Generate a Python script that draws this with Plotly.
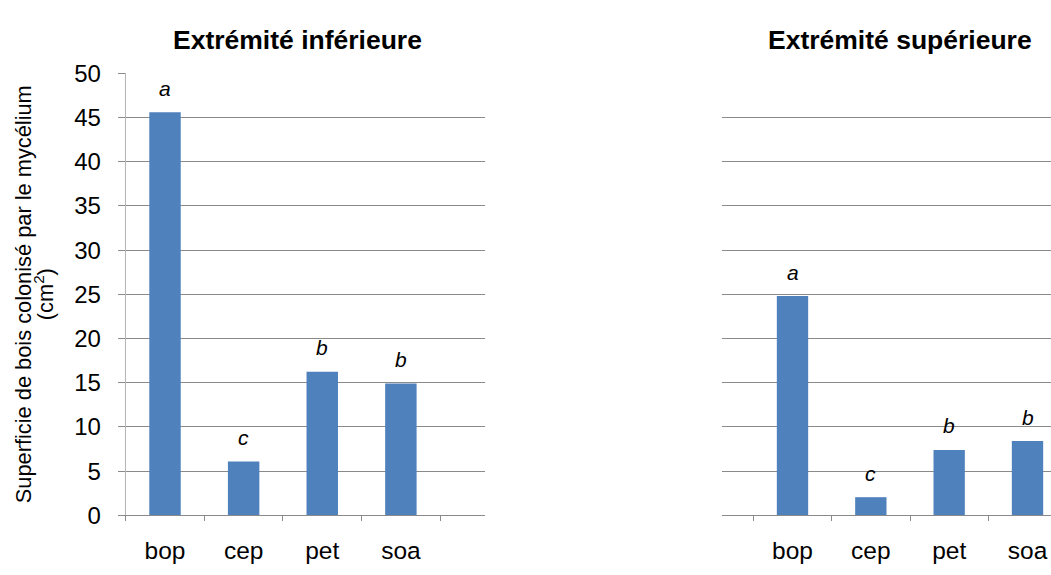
import plotly.graph_objects as go

categories = ["bop", "cep", "pet", "soa"]
inf_values = [45.6, 6.1, 16.25, 14.9]
sup_values = [24.8, 2.05, 7.4, 8.4]
inf_letters = ["a", "c", "b", "b"]
sup_letters = ["a", "c", "b", "b"]
titles = ["Extrémité inférieure", "Extrémité supérieure"]
y_title_lines = ["Superficie de bois colonisé par le mycélium", "(cm<sup>2</sup>)"]
y_ticks = [0, 5, 10, 15, 20, 25, 30, 35, 40, 45, 50]

FONT = "Arial, 'Liberation Sans', sans-serif"
BAR = "#4F81BD"
GRID = "#8a8a8a"
AXIS = "#b5b5b5"

W, H = 1051, 575

fig = go.Figure()
fig.add_trace(go.Bar(x=categories, y=inf_values, width=0.4, marker_color=BAR,
                     marker_line_width=0, xaxis="x", yaxis="y", showlegend=False))
fig.add_trace(go.Bar(x=categories, y=sup_values, width=0.4, marker_color=BAR,
                     marker_line_width=0, xaxis="x2", yaxis="y2", showlegend=False))

ydom = [(575 - 526) / H, (575 - 62.3) / H]

common_x = dict(type="category", tickson="boundaries", ticks="outside", ticklen=5,
                tickcolor=GRID, showline=True, linecolor=GRID, linewidth=1,
                showgrid=False, tickfont=dict(family=FONT, size=24.5, color="#000"),
                ticklabelstandoff=13, fixedrange=True)
common_y = dict(range=[0, 50], tickvals=y_ticks, showgrid=True, gridcolor=GRID,
                gridwidth=1, zeroline=False, fixedrange=True)

fig.update_layout(
    width=W, height=H,
    margin=dict(l=0, r=0, t=0, b=0),
    paper_bgcolor="white", plot_bgcolor="white",
    xaxis=dict(domain=[125.7 / W, 485 / W], range=[-0.5, 4.07], anchor="y", **common_x),
    xaxis2=dict(domain=[722 / W, 1.0], range=[-0.9, 3.3], anchor="y2", **common_x),
    yaxis=dict(domain=ydom, anchor="x", showline=True, linecolor=AXIS, linewidth=1,
               ticks="outside", ticklen=7, tickcolor=GRID,
               tickfont=dict(family=FONT, size=24, color="#000"),
               ticklabelstandoff=12, **common_y),
    yaxis2=dict(domain=ydom, anchor="x2", showline=False, ticks="",
                showticklabels=False, **common_y),
    bargap=0.6,
)

annotations = []
for c, v, l in zip(categories, inf_values, inf_letters):
    annotations.append(dict(x=c, y=v, xref="x", yref="y", text="<i>" + l + "</i>",
                            showarrow=False, yanchor="middle", yshift=24,
                            font=dict(family=FONT, size=21, color="#000")))
for c, v, l in zip(categories, sup_values, sup_letters):
    annotations.append(dict(x=c, y=v, xref="x2", yref="y2", text="<i>" + l + "</i>",
                            showarrow=False, yanchor="middle", yshift=24,
                            font=dict(family=FONT, size=21, color="#000")))

for tx, t in zip([297, 900], titles):
    annotations.append(dict(x=tx / W, y=(575 - 27) / H, xref="paper", yref="paper",
                            text="<b>" + t + "</b>", showarrow=False,
                            xanchor="center", yanchor="middle",
                            font=dict(family=FONT, size=26.5, color="#000")))

for lx, line in zip([23, 44], y_title_lines):
    annotations.append(dict(x=lx / W, y=(575 - 294) / H, xref="paper", yref="paper",
                            text=line, showarrow=False, textangle=-90,
                            xanchor="center", yanchor="middle",
                            font=dict(family=FONT, size=21.8, color="#000")))

fig.update_layout(annotations=annotations)

fig.write_html("out.html")
